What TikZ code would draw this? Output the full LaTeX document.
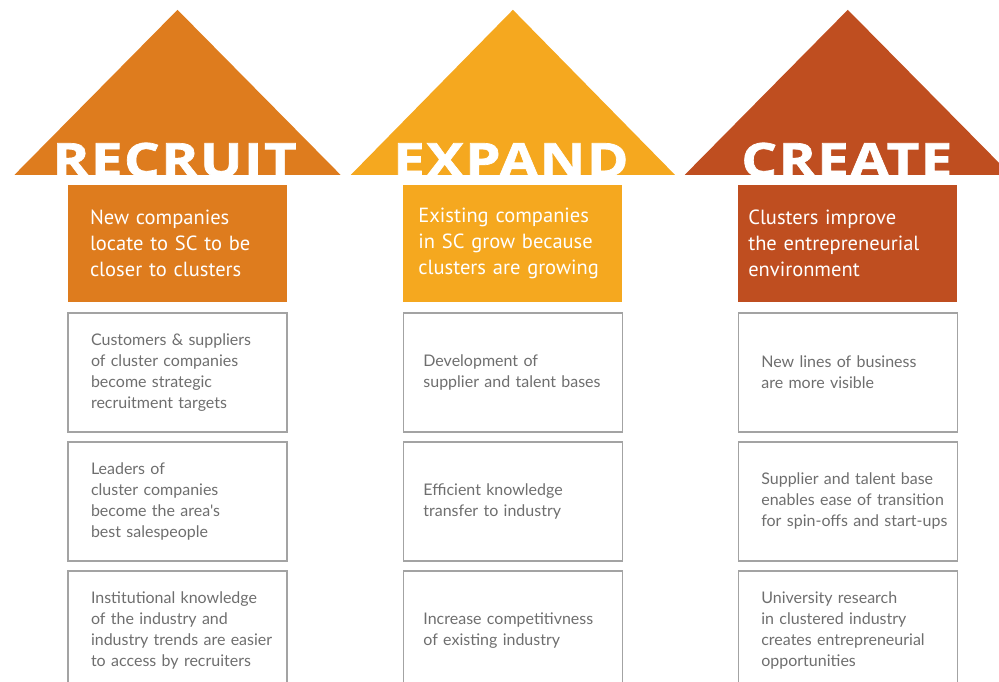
\documentclass[tikz,border=0pt]{standalone}
\usepackage{fontspec}
\setmainfont{PT Sans}
\newfontfamily\bodyfont{Lato}
\newfontfamily\titlefont[FakeStretch=1.2, LetterSpace=3, FakeBold=1.5]{Open Sans}
\usepackage{tikz}
\usetikzlibrary{positioning}
\definecolor{recruitorange}{HTML}{DE7C1E}
\definecolor{expandyellow}{HTML}{F5A81F}
\definecolor{createrust}{HTML}{BF4E20}
\definecolor{framegray}{HTML}{A3A3A3}
\definecolor{textgray}{HTML}{6E6E6E}
\tikzstyle{headbox} = [rectangle, minimum width=219pt, minimum height=117pt, align=left, text=white, font=\fontsize{20.5}{26}\selectfont]
\tikzstyle{itembox} = [rectangle, minimum width=219pt, minimum height=119pt, inner xsep=23pt, text width=173pt, align=left, draw=framegray, line width=1.5pt, text=textgray, font=\bodyfont\fontsize{16}{21}\selectfont]
\tikzstyle{title} = [anchor=base, inner sep=0pt, text=white, font=\titlefont\bfseries\fontsize{47}{47}\selectfont]

\begin{document}
\begin{tikzpicture}[x=1pt, y=1pt, node distance=8.5pt]
    \useasboundingbox (0,0) rectangle (999,-681);
    \clip (0,0) rectangle (999,-681);
    % Header boxes
    \node (recruit) [headbox, fill=recruitorange, inner xsep=22pt, text width=175pt] at (177.5,-243.5) {New companies\\ locate to SC to be\\ closer to clusters};
    \node (expand) [headbox, fill=expandyellow, inner xsep=15pt, text width=189pt, right=116pt of recruit] {Existing companies\\ in SC grow because\\ clusters are growing};
    \node (create) [headbox, fill=createrust, inner xsep=10pt, text width=199pt, right=115.5pt of expand] {Clusters improve\\ the entrepreneurial\\ environment};
    % Arrow heads
    \fill [recruitorange] ([xshift=-163pt, yshift=10pt]recruit.north) -- ([yshift=175pt]recruit.north) -- ([xshift=163pt, yshift=10pt]recruit.north) -- cycle;
    \fill [expandyellow] ([xshift=-162pt, yshift=10pt]expand.north) -- ([yshift=175pt]expand.north) -- ([xshift=162pt, yshift=10pt]expand.north) -- cycle;
    \fill [createrust] ([xshift=-163pt, yshift=10pt]create.north) -- ([yshift=175pt]create.north) -- ([xshift=163pt, yshift=10pt]create.north) -- cycle;
    \node (recruit_t) [title] at ([xshift=-3pt, yshift=8pt]recruit.north) {RECRUIT};
    \node (expand_t) [title] at ([xshift=-2pt, yshift=8pt]expand.north) {EXPAND};
    \node (create_t) [title] at ([xshift=-1pt, yshift=8pt]create.north) {CREATE};
    % Recruit column
    \node (r1) [itembox, below=10pt of recruit] {Customers \& suppliers\\ of cluster companies\\ become strategic\\ recruitment targets};
    \node (r2) [itembox, below=of r1] {Leaders of\\ cluster companies\\ become the area's\\ best salespeople};
    \node (r3) [itembox, below=of r2] {Institutional knowledge\\ of the industry and\\ \mbox{industry trends are easier}\\ to access by recruiters};
    % Expand column
    \node (e1) [itembox, inner xsep=20pt, text width=179pt, below=10pt of expand] {Development of\\ \mbox{supplier and talent bases}};
    \node (e2) [itembox, inner xsep=20pt, text width=179pt, below=of e1] {Efficient knowledge\\ transfer to industry};
    \node (e3) [itembox, inner xsep=20pt, text width=179pt, below=of e2] {Increase competitivness\\ of existing industry};
    % Create column
    \node (c1) [itembox, below=10pt of create] {New lines of business\\ are more visible};
    \node (c2) [itembox, below=of c1] {Supplier and talent base\\ \mbox{enables ease of transition}\\ \mbox{for spin-offs and start-ups}};
    \node (c3) [itembox, below=of c2] {University research\\ in clustered industry\\ creates entrepreneurial\\ opportunities};
\end{tikzpicture}
\end{document}
